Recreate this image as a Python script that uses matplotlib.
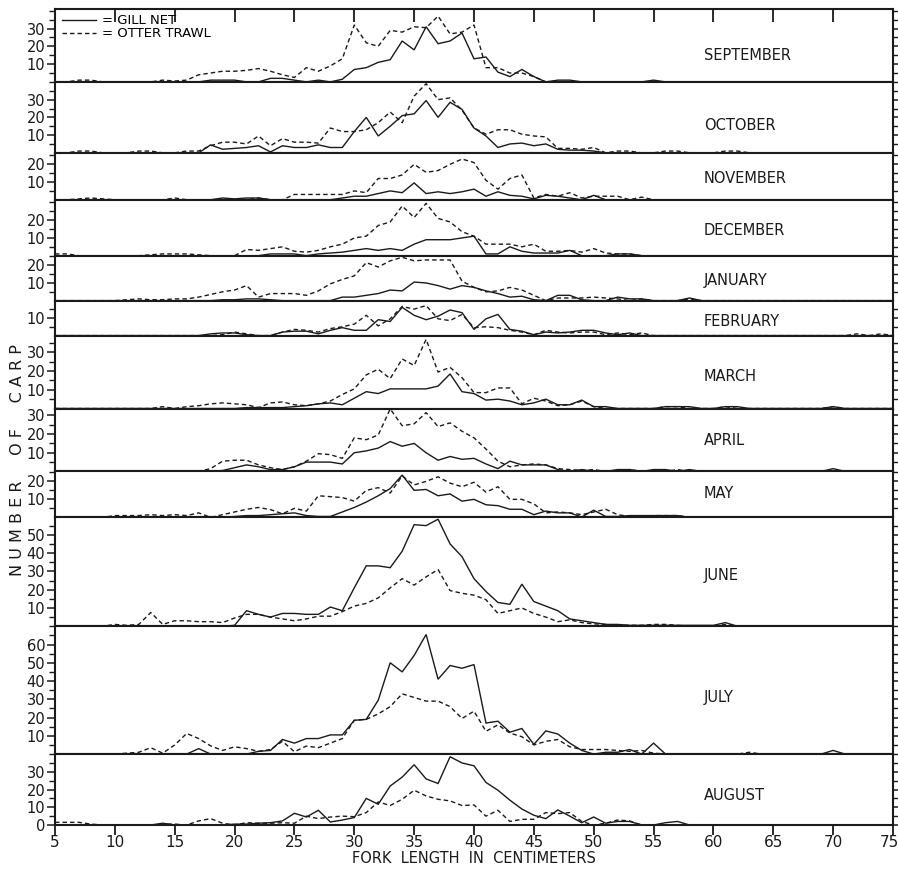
import numpy as np
import matplotlib
matplotlib.use("Agg")
import matplotlib.pyplot as plt
from matplotlib.transforms import ScaledTranslation

# fork length classes, cm
fork_cm = np.arange(5, 76)

months = ["SEPTEMBER", "OCTOBER", "NOVEMBER", "DECEMBER", "JANUARY", "FEBRUARY",
          "MARCH", "APRIL", "MAY", "JUNE", "JULY", "AUGUST"]

# counts per 1-cm class, cm 5..75 (rows: 5-14, 15-24, 25-34, 35-44, 45-54, 55-64, 65-75)
sep_gill = [0, 0, 0, 0, 0, 0, 0, 0, 0, 0,
            0, 0, 0, 1, 1, 1, 0, 0, 2, 2,
            1, 0, 1, 0, 1.5, 7, 8, 11, 12.5, 23,
            18, 31, 21.5, 23, 27.5, 13, 14, 5.5, 3, 7,
            3, 0, 1, 1, 0, 0, 0, 0, 0, 0,
            1, 0, 0, 0, 0, 0, 0, 0, 0, 0,
            0, 0, 0, 0, 0, 0, 0, 0, 0, 0, 0]
sep_trawl = [0, 0, 1, 1, 0, 0, 0, 0, 0, 1,
             0.5, 1, 4, 5, 6, 6, 6.5, 7.5, 6, 4,
             2.5, 8, 6, 9, 13, 32, 22, 20, 29, 28,
             31, 30.5, 37, 27, 28, 32, 8, 8, 5, 5,
             3, 0, 0, 0, 0, 0, 0, 0, 0, 0,
             0, 0, 0, 0, 0, 0, 0, 0, 0, 0,
             0, 0, 0, 0, 0, 0, 0, 0, 0, 0, 0]

oct_gill = [0, 0, 0, 0, 0, 0, 0, 0, 0, 0,
            0, 0, 0, 4.5, 2, 2.5, 3, 4, 0.5, 4,
            3, 3, 4.5, 3, 3, 12, 20, 9.5, 15, 21,
            22, 29.5, 20, 28.5, 24.5, 14, 9.5, 3, 5, 5.5,
            4, 5, 2, 1.5, 1.5, 1, 0, 0, 0, 0,
            0, 0, 0, 0, 0, 0, 0, 0, 0, 0,
            0, 0, 0, 0, 0, 0, 0, 0, 0, 0, 0]
oct_trawl = [0, 0, 1, 1, 0, 0, 0, 1, 1, 0,
             0, 1, 1, 4, 6, 6, 5, 9.5, 4, 8,
             6, 6, 5.5, 14, 12, 12, 13, 17, 23, 17,
             32, 39, 30, 31, 24, 14, 10.5, 13, 13, 10.5,
             9.5, 9, 2.5, 2.5, 2, 3, 0, 1, 1, 0,
             0, 1, 1, 0, 0, 0, 1, 1, 0, 0,
             0, 0, 0, 0, 0, 0, 0, 0, 0, 0, 0]

nov_gill = [0, 0, 0, 0, 0, 0, 0, 0, 0, 0,
            0, 0, 0, 0, 1, 0.5, 1, 1, 0, 0,
            0, 0, 0, 0, 1, 2, 2, 3.5, 5, 4,
            9.5, 3.5, 4.5, 3.5, 4.5, 6, 2, 4.5, 2.5, 2,
            0.5, 2.5, 2, 1, 0, 2.5, 0, 0, 0, 0,
            0, 0, 0, 0, 0, 0, 0, 0, 0, 0,
            0, 0, 0, 0, 0, 0, 0, 0, 0, 0, 0]
nov_trawl = [0, 0, 0.5, 1, 0.5, 0, 0, 0, 0, 0,
             1, 0, 0, 0, 0, 0, 0, 1, 0, 0,
             3, 3, 3, 3, 3, 5, 4, 12, 12, 14,
             20, 15.5, 16.5, 20, 23, 21, 11, 6, 12, 14,
             1, 3, 2, 4, 1, 2, 2, 2, 0, 1.5,
             0, 0, 0, 0, 0, 0, 0, 0, 0, 0,
             0, 0, 0, 0, 0, 0, 0, 0, 0, 0, 0]

dec_gill = [0, 0, 0, 0, 0, 0, 0, 0, 0, 0,
            0, 0, 0, 0, 0, 0, 0, 0, 1, 1,
            1, 0, 1, 1.5, 2, 3, 4, 3, 4, 3,
            6.5, 9, 9, 9, 10, 11, 1, 1, 5, 2.5,
            1.5, 1.5, 1.5, 3, 0, 0, 0, 1, 1, 0,
            0, 0, 0, 0, 0, 0, 0, 0, 0, 0,
            0, 0, 0, 0, 0, 0, 0, 0, 0, 0, 0]
dec_trawl = [1, 1, 0, 0, 0, 0, 0, 0, 0.5, 1,
             1, 1, 0.5, 0, 0, 0, 3.5, 3, 4, 5,
             2.5, 2, 3, 5, 6.5, 10, 11, 17, 19, 28,
             21.5, 29.5, 21, 19, 13.5, 11, 6.5, 6.5, 6.5, 5,
             6.5, 2.5, 2.5, 3, 2, 4, 1.5, 1, 1, 0,
             0, 0, 0, 0, 0, 0, 0, 0, 0, 0,
             0, 0, 0, 0, 0, 0, 0, 0, 0, 0, 0]

jan_gill = [0, 0, 0, 0, 0, 0, 0, 0, 0, 0,
            0, 0, 0, 0, 0.5, 0.5, 1, 1, 0.5, 0,
            0, 0, 0, 0, 2, 2, 3, 4, 6, 5.5,
            10.5, 10, 8.5, 6.5, 8.5, 7.5, 5.5, 4, 2, 2.5,
            0.5, 0, 3, 3, 0.5, 0, 0, 2, 1, 1,
            0, 0, 0, 1.5, 0, 0, 0, 0, 0, 0,
            0, 0, 0, 0, 0, 0, 0, 0, 0, 0, 0]
jan_trawl = [0, 0, 0, 0, 0, 0, 0.5, 1, 0.5, 0.5,
             1, 1, 2, 3.5, 5, 6, 8.5, 2, 4, 4,
             4, 3, 5.5, 9.5, 12, 14, 21.5, 19, 22.5, 24.5,
             22.5, 23, 23, 23, 11, 7.5, 5, 5.5, 7.5, 6,
             3, 0, 1.5, 1.5, 1.5, 2, 1.5, 1, 0, 1,
             0, 0, 0, 1, 0, 0, 0, 0, 0, 0,
             0, 0, 0, 0, 0, 0, 0, 0, 0, 0, 0]

feb_gill = [0, 0, 0, 0, 0, 0, 0, 0, 0, 0,
            0, 0, 0, 1, 1.5, 1.5, 0.5, 0, 0, 2,
            2.5, 2.5, 1, 3, 4.5, 3, 3, 9, 8, 16,
            11.5, 9, 11, 14.5, 13, 3.5, 9.5, 12, 3.5, 2.5,
            0.5, 2, 1.5, 2, 3, 3, 1.5, 0.5, 1.5, 0,
            0, 0, 0, 0, 0, 0, 0, 0, 0, 0,
            0, 0, 0, 0, 0, 0, 0, 0, 0, 0, 0]
feb_trawl = [0, 0, 0, 0, 0, 0, 0, 0, 0, 0,
             0, 0, 0, 0, 0.5, 2, 1, 0, 0, 2,
             3.5, 3, 2, 4, 5, 6.5, 11.5, 5.5, 9.5, 16.5,
             15, 17, 9.5, 8.5, 12, 4.5, 5, 4.5, 3, 2,
             0.5, 3, 2, 1.5, 2, 2, 0.5, 1.5, 0.5, 1.5,
             0, 0, 0, 0, 0, 0, 0, 0, 0, 0,
             0, 0, 0, 0, 0, 0, 0, 1, 0, 1, 0]

mar_gill = [0, 0, 0, 0, 0, 0, 0, 0, 0, 0,
            0, 0, 0, 0, 0, 0, 0.5, 0.5, 0.5, 0.5,
            1, 1.5, 2.5, 3, 2, 5.5, 9, 8, 10.5, 10.5,
            10.5, 10.5, 12, 18.5, 9, 8, 4.5, 5, 4, 2,
            3, 5, 2, 2, 4.5, 1, 1, 0, 0, 0,
            0, 1, 1, 1, 0, 0, 1, 1, 0, 0,
            0, 0, 0, 0, 0, 1, 0, 0, 0, 0, 0]
mar_trawl = [0, 0, 0, 0, 0, 0, 0, 0, 0, 1,
             0, 1, 1.5, 2.5, 3, 2.5, 2, 0.5, 3, 3.5,
             2, 1.5, 2.5, 4, 7.5, 10.5, 18, 21, 16, 26.5,
             23, 37, 19.5, 22, 16.5, 8.5, 8.5, 11, 11, 2.5,
             5.5, 4, 1.5, 2, 4, 1, 0, 0, 0, 0,
             0, 1, 1, 0, 0, 0, 1, 0, 0, 0,
             0, 0, 0, 0, 0, 1, 0, 0, 0, 0, 0]

apr_gill = [0, 0, 0, 0, 0, 0, 0, 0, 0, 0,
            0, 0, 0, 0, 0.5, 2, 3.5, 2.5, 1, 1,
            2.5, 5, 5, 5, 4, 10, 11, 12.5, 16, 13.5,
            15, 10, 6, 8, 6.5, 7, 4, 1.5, 5.5, 3.5,
            3.5, 3.5, 1, 0, 1, 0, 0, 1, 1, 0,
            1, 1, 0, 1, 0, 0, 0, 0, 0, 0,
            0, 0, 0, 0, 0, 1.5, 0, 0, 0, 0, 0]
apr_trawl = [0, 0, 0, 0, 0, 0, 0, 0, 0, 0,
             0, 0, 0, 1.5, 5.5, 6, 6, 3.5, 2, 1,
             2.5, 5.5, 9.5, 9, 7, 18, 17, 19.5, 33.5, 24.5,
             25.5, 31.5, 24, 26, 21.5, 18, 12, 5.5, 2.5, 3.5,
             4, 3.5, 1.5, 1, 0.5, 1, 0, 0, 1, 0,
             0, 0, 1, 0, 0, 0, 0, 0, 0, 0,
             0, 0, 0, 0, 0, 0, 0, 0, 0, 0, 0]

may_gill = [0, 0, 0, 0, 0, 0, 0, 0, 0, 0,
            0, 0, 0, 0, 0, 0.5, 1, 1, 1.5, 2,
            2.5, 1, 0.5, 0.5, 3, 5.5, 8.5, 12, 16, 23.5,
            15, 15.5, 12, 13, 9, 10, 7, 6.5, 4.5, 4.5,
            1.5, 3.5, 2.5, 2.5, 0.2, 4, 0.5, 0.5, 1, 1,
            1, 1, 1, 0, 0, 0, 0, 0, 0, 0,
            0, 0, 0, 0, 0, 0, 0, 0, 0, 0, 0]
may_trawl = [0, 0, 0, 0, 0, 1, 1, 1, 1.5, 1,
             1.5, 1, 2.5, 0, 1.5, 3, 4.5, 5.5, 4.3, 2,
             5, 3.5, 12, 11.5, 11, 9, 15, 16.5, 13.5, 23,
             18, 20, 22.5, 19, 17, 19.5, 14, 17, 10, 10,
             7.5, 2.5, 3, 2.5, 1.5, 3, 4.5, 1.5, 0.5, 0.5,
             1, 1, 1, 0, 0, 0, 0, 0, 0, 0,
             0, 0, 0, 0, 0, 0, 0, 0, 0, 0, 0]

jun_gill = [0, 0, 0, 0, 0, 0, 0, 0, 0, 0,
            0, 0, 0, 0, 0, 0.5, 8.5, 6.5, 5, 7,
            7, 6.5, 6.5, 10.5, 8.5, 21, 33, 33, 32, 41,
            55.5, 55, 58.5, 45, 38, 26, 19, 13, 12, 23,
            13.5, 11, 8.5, 4, 3, 2, 1, 1, 0.5, 0.5,
            0.5, 0.5, 0.5, 0.5, 0.5, 0.5, 2, 0, 0, 0,
            0, 0, 0, 0, 0, 0, 0, 0, 0, 0, 0]
jun_trawl = [0, 0, 0, 0, 0, 1, 0.5, 1, 7.5, 1,
             3, 3, 2.5, 2.5, 2, 4.5, 6.5, 6.5, 5, 4,
             3, 4, 5.5, 5.5, 8, 11, 12.5, 15.5, 21, 26,
             22.5, 27, 31, 19.5, 18, 17, 14.5, 7, 8.5, 10,
             7, 5, 2.5, 3.5, 2, 1.3, 1, 0.5, 0.5, 0.5,
             1, 1, 0.5, 0, 0, 0, 1, 0, 0, 0,
             0, 0, 0, 0, 0, 0, 0, 0, 0, 0, 0]

jul_gill = [0, 0, 0, 0, 0, 0, 0, 0, 0, 0,
            0, 0, 3, 0, 0, 0, 0, 1.5, 2, 8,
            6, 8.5, 8.5, 10.5, 10.5, 18.5, 19, 29.5, 50, 45,
            54, 65.5, 41, 48.5, 47, 49, 17, 18, 12, 14,
            5.3, 12.7, 11, 6, 2, 0, 1, 1, 2.5, 0,
            6, 0, 0, 0, 0, 0, 0, 0, 0, 0,
            0, 0, 0, 0, 0, 2, 0, 0, 0, 0, 0]
jul_trawl = [0, 0, 0, 0, 0, 0, 0.5, 1, 3.5, 0.5,
             5, 11.3, 8.5, 4.5, 2, 4, 3, 1.5, 2.5, 7,
             1.3, 4.4, 3.5, 6, 8.5, 18.5, 19, 22, 26, 33,
             31, 29, 29, 26, 19.5, 23.5, 12.5, 16, 11.5, 9.5,
             5, 7, 8, 4, 2.5, 2.5, 2.5, 2, 1.5, 2,
             0.5, 0, 0, 0, 0, 0, 0, 0, 1, 0,
             0, 0, 0, 0, 0, 0, 0, 0, 0, 0, 0]

aug_gill = [0, 0, 0, 0, 0, 0, 0, 0, 0, 1,
            0, 0, 0, 0, 0, 0.5, 0.5, 1, 1.3, 2.3,
            6.6, 4.5, 8.3, 1.7, 2.8, 4.2, 15, 11.7, 22, 27,
            34, 26, 23.4, 38.5, 35, 33.4, 24, 19.6, 14, 9,
            5.5, 3.6, 8.5, 5, 1.3, 4.5, 1, 2, 2, 0,
            0, 1.3, 2, 0, 0, 0, 0, 0, 0, 0,
            0, 0, 0, 0, 0, 0, 0, 0, 0, 0, 0]
aug_trawl = [1.5, 1.5, 1.5, 0.5, 0, 0, 0, 0, 0, 0.5,
             0.5, 0, 2.3, 3.6, 1, 0, 1.3, 1, 1, 1.3,
             1, 5, 3.6, 4.5, 5, 4.7, 7, 13, 11, 14.5,
             19.6, 16.4, 14.5, 13.6, 11, 11.3, 5, 8.3, 2, 3.2,
             3.2, 7, 6.4, 7, 2, 0, 1, 2.8, 2.3, 0,
             0, 0, 0, 0, 0, 0, 0, 0, 0, 0,
             0, 0, 0, 0, 0, 0, 0, 0, 0, 0, 0]

gill_net = [sep_gill, oct_gill, nov_gill, dec_gill, jan_gill, feb_gill,
            mar_gill, apr_gill, may_gill, jun_gill, jul_gill, aug_gill]
otter_trawl = [sep_trawl, oct_trawl, nov_trawl, dec_trawl, jan_trawl, feb_trawl,
               mar_trawl, apr_trawl, may_trawl, jun_trawl, jul_trawl, aug_trawl]

# y-axis top for each panel and its labelled ticks
y_top = [41, 40, 26.5, 31.5, 25.4, 19.8, 39, 33.7, 25.5, 59.5, 70, 40]
y_labels = [[10, 20, 30], [10, 20, 30], [10, 20], [10, 20], [10, 20], [10],
            [10, 20, 30], [10, 20, 30], [10, 20], [10, 20, 30, 40, 50],
            [10, 20, 30, 40, 50, 60], [0, 10, 20, 30]]

# layout (pixel heights of the panels and vertical place of month names)
panel_px = [73, 71, 47, 56, 45, 35, 73, 63, 46, 109, 128, 71]
label_frac = [0.36, 0.39, 0.45, 0.45, 0.44, 0.40, 0.44, 0.49, 0.52, 0.47, 0.445, 0.41]

ink = "#1a1a1a"
plt.rcParams['font.family'] = ['DejaVu Sans']

fig = plt.figure(figsize=(8.98, 8.71), dpi=100)
gs = fig.add_gridspec(12, 1, height_ratios=panel_px, hspace=0,
                      left=55 / 898, right=893 / 898, top=1 - 9 / 871, bottom=1 - 825 / 871)

axes = []
for i, month in enumerate(months):
    ax = fig.add_subplot(gs[i, 0])
    axes.append(ax)
    ax.plot(fork_cm, gill_net[i], color=ink, lw=1.0, solid_joinstyle='miter',
            label="= GILL NET")
    ax.plot(fork_cm, otter_trawl[i], color=ink, lw=1.0, linestyle=(0, (3.2, 2.2)),
            label="= OTTER TRAWL")
    ax.set_xlim(5, 75)
    ax.set_ylim(0, y_top[i])

    ax.set_yticks(y_labels[i])
    ax.set_yticklabels([str(v) for v in y_labels[i]])
    minors = [v for v in range(5, int(y_top[i]) + 1, 5) if v not in y_labels[i]]
    ax.set_yticks(minors, minor=True)
    ax.tick_params(axis='y', which='major', direction='out', length=6, width=1.1,
                   labelsize=10.5, pad=1, colors=ink, right=True)
    ax.tick_params(axis='y', which='minor', direction='out', length=4, width=1.0,
                   colors=ink, right=True)

    for sp in ax.spines.values():
        sp.set_linewidth(1.5)
        sp.set_color(ink)

    ax.text(59.2, label_frac[i] * y_top[i], month, fontsize=10.5, ha='left',
            va='center', color=ink)

    if i == 0:
        ax.set_xticks(range(10, 75, 5))
        ax.tick_params(axis='x', which='major', top=True, bottom=False,
                       labeltop=False, labelbottom=False, direction='in',
                       length=9, width=1.3, colors=ink)
        ax.legend(loc='upper left', bbox_to_anchor=(0.0, 1.02), frameon=False,
                  fontsize=9.5, handlelength=2.6, handletextpad=0.45,
                  labelspacing=0.0, borderpad=0.3, borderaxespad=0.2)
    elif i == len(months) - 1:
        ax.set_xticks(range(5, 76, 5))
        ax.tick_params(axis='x', which='major', direction='out', length=7, width=1.3,
                       labelsize=11, colors=ink, pad=0)
        ax.set_xlabel("FORK  LENGTH  IN  CENTIMETERS", fontsize=10.5, color=ink,
                      labelpad=1)
        # keep the last label ("75") inside the picture
        last = ax.get_xticklabels()[-1]
        last.set_transform(last.get_transform() +
                           ScaledTranslation(-4 / 100, 0, fig.dpi_scale_trans))
    else:
        ax.set_xticks([])

fig.text(0.02, 0.472, "N U M B E R     O F     C A R P", rotation=90,
         fontsize=11.5, ha='center', va='center', color=ink)

fig.savefig("out.png", dpi=100)
